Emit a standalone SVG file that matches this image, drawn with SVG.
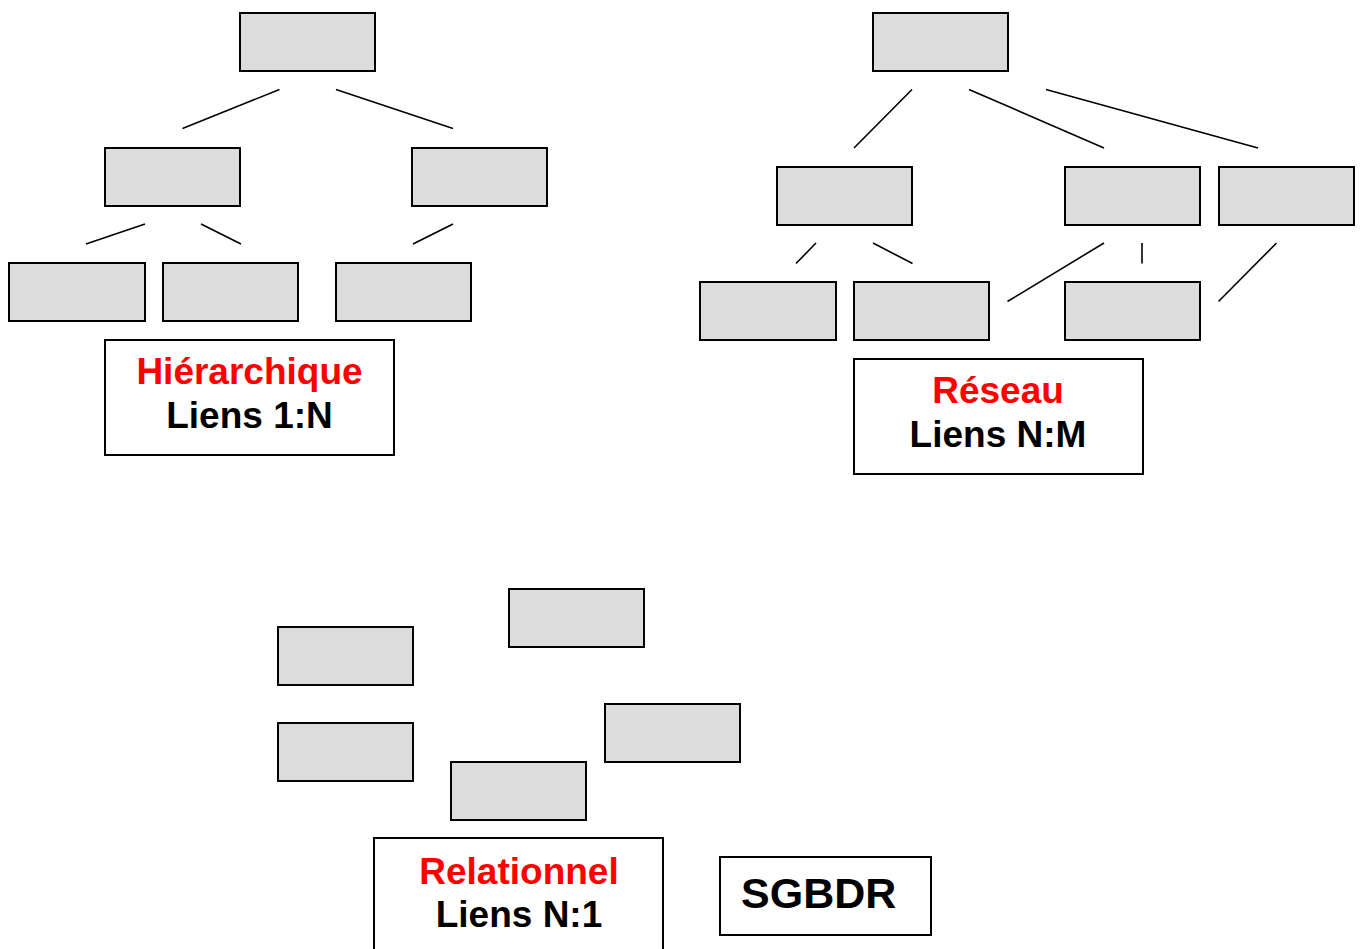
<svg xmlns="http://www.w3.org/2000/svg" width="1361" height="949" viewBox="0 0 1361 949">
<style>
.n{fill:#dcdcdc;stroke:#000;stroke-width:2}
.lb{fill:#fff;stroke:#000;stroke-width:2}
.c line{stroke:#000;stroke-width:1.6}
.t{font-family:"Liberation Sans",Arial,sans-serif;font-weight:bold;font-size:37px;text-anchor:middle}
.red{fill:#ff0000}
.blk{fill:#000}
</style>
<rect width="1361" height="949" fill="#fff"/>
<!-- Hierarchical -->
<g id="h-root"><rect class="n" x="240" y="13" width="135" height="58"/></g>
<g id="h-mid1"><rect class="n" x="105" y="148" width="135" height="58"/></g>
<g id="h-mid2"><rect class="n" x="412" y="148" width="135" height="58"/></g>
<g id="h-leaf1"><rect class="n" x="9" y="263" width="136" height="58"/></g>
<g id="h-leaf2"><rect class="n" x="163" y="263" width="135" height="58"/></g>
<g id="h-leaf3"><rect class="n" x="336" y="263" width="135" height="58"/></g>
<g id="h-label">
<rect class="lb" x="105" y="340" width="289" height="115"/>
<text class="t red" x="249.5" y="384">Hiérarchique</text>
<text class="t blk" x="249.5" y="428">Liens 1:N</text>
</g>
<!-- Network -->
<g id="r-root"><rect class="n" x="873" y="13" width="135" height="58"/></g>
<g id="r-mid1"><rect class="n" x="777" y="167" width="135" height="58"/></g>
<g id="r-mid2"><rect class="n" x="1065" y="167" width="135" height="58"/></g>
<g id="r-mid3"><rect class="n" x="1219" y="167" width="135" height="58"/></g>
<g id="r-leaf1"><rect class="n" x="700" y="282" width="136" height="58"/></g>
<g id="r-leaf2"><rect class="n" x="854" y="282" width="135" height="58"/></g>
<g id="r-leaf3"><rect class="n" x="1065" y="282" width="135" height="58"/></g>
<g id="r-label">
<rect class="lb" x="854" y="359" width="289" height="115"/>
<text class="t red" x="998" y="403">Réseau</text>
<text class="t blk" x="998" y="447">Liens N:M</text>
</g>
<!-- Relational -->
<g id="s-1"><rect class="n" x="509" y="589" width="135" height="58"/></g>
<g id="s-2"><rect class="n" x="278" y="627" width="135" height="58"/></g>
<g id="s-3"><rect class="n" x="278" y="723" width="135" height="58"/></g>
<g id="s-4"><rect class="n" x="605" y="704" width="135" height="58"/></g>
<g id="s-5"><rect class="n" x="451" y="762" width="135" height="58"/></g>
<g id="s-label">
<rect class="lb" x="374" y="838" width="289" height="115"/>
<text class="t red" x="519" y="884">Relationnel</text>
<text class="t blk" x="519" y="927">Liens N:1</text>
</g>
<g id="sgbdr">
<rect class="lb" x="720" y="857" width="211" height="78"/>
<text class="t blk" x="741" y="908" style="text-anchor:start;font-size:43px">SGBDR</text>
</g>
<!-- Connectors -->
<g id="connectors" class="c">
<line x1="279.5" y1="89.5" x2="182.5" y2="128.5"/>
<line x1="336" y1="89.5" x2="453" y2="128.5"/>
<line x1="145" y1="224" x2="86" y2="244"/>
<line x1="201" y1="224" x2="241" y2="244"/>
<line x1="453" y1="224" x2="413" y2="244"/>
<line x1="912" y1="89.5" x2="854" y2="148"/>
<line x1="969" y1="89.5" x2="1104" y2="148"/>
<line x1="1046" y1="89.5" x2="1258" y2="148"/>
<line x1="816" y1="243" x2="796" y2="263.5"/>
<line x1="873" y1="243" x2="912.5" y2="263.5"/>
<line x1="1104" y1="243" x2="1007.5" y2="301.5"/>
<line x1="1142" y1="243" x2="1142" y2="263.5"/>
<line x1="1276.5" y1="243" x2="1218.5" y2="301.5"/>
</g>
</svg>
